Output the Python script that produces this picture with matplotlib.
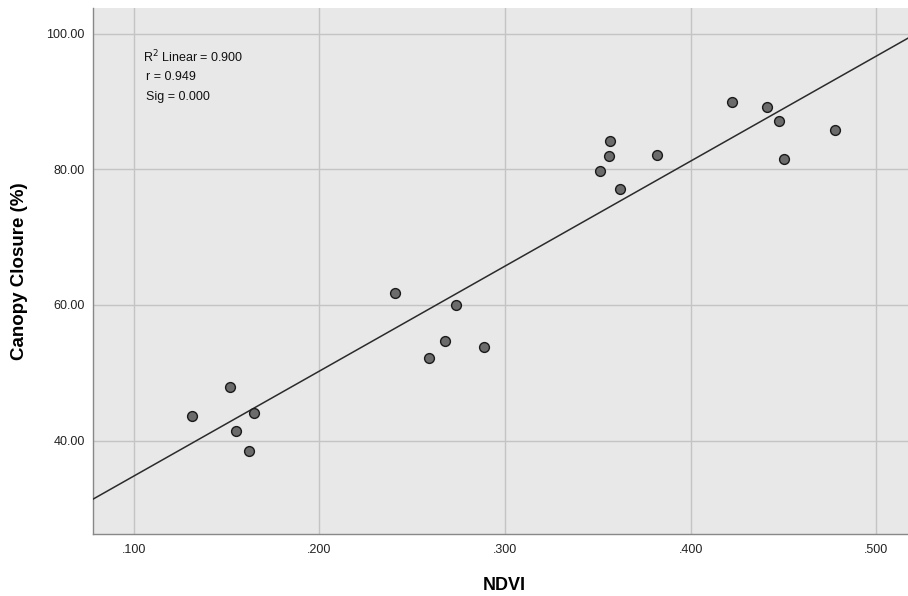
import numpy as np
import matplotlib
matplotlib.use('Agg')
import matplotlib.pyplot as plt

plt.rcParams['font.family'] = ['Liberation Sans', 'DejaVu Sans']

# NDVI vs canopy closure
ndvi = [0.1312, 0.1520, 0.1551, 0.1650, 0.1619,
        0.2406, 0.2738, 0.2677, 0.2592, 0.2887,
        0.3565, 0.3558, 0.3820, 0.3511, 0.3619,
        0.4222, 0.4413, 0.4474, 0.4779, 0.4502]
canopy = [43.6, 47.87, 41.43, 44.13, 38.44,
          61.77, 60.04, 54.69, 52.14, 53.81,
          84.22, 82.0, 82.15, 79.71, 77.1,
          89.92, 89.18, 87.07, 85.75, 81.56]

xticks = [0.1, 0.2, 0.3, 0.4, 0.5]
xticklabels = ['.100', '.200', '.300', '.400', '.500']
yticks = [40, 60, 80, 100]
yticklabels = ['40.00', '60.00', '80.00', '100.00']
stats = ['R$^2$ Linear = 0.900', 'r = 0.949', 'Sig = 0.000']

fig = plt.figure(figsize=(9.08, 5.96), dpi=100)
ax = fig.add_axes([0.1024, 0.104, 0.8976, 0.8826])
ax.set_facecolor('#E8E8E8')

xlim = (0.0781, 0.517)
ylim = (26.25, 103.77)

# fit line
slope, icpt = np.polyfit(ndvi, canopy, 1)
lx = np.array(xlim)
ax.plot(lx, slope * lx + icpt, color='#2b2b2b', linewidth=1.1, zorder=3)

ax.scatter(ndvi, canopy, s=50, facecolor='#6b6b6b', edgecolor='#1a1a1a',
           linewidth=1.0, zorder=4)

ax.set_xlim(xlim)
ax.set_ylim(ylim)
ax.set_xticks(xticks)
ax.set_xticklabels(xticklabels)
ax.set_yticks(yticks)
ax.set_yticklabels(yticklabels)
ax.tick_params(length=0, labelsize=9, colors='#222222')
ax.tick_params(axis='x', pad=7)
ax.tick_params(axis='y', pad=6)
ax.grid(True, color='#c4c4c4', linewidth=1.0)
ax.set_axisbelow(True)

for s in ['top', 'right']:
    ax.spines[s].set_visible(False)
for s in ['left', 'bottom']:
    ax.spines[s].set_color('#888888')
    ax.spines[s].set_linewidth(1.0)

ax.set_xlabel('NDVI', fontsize=13, fontweight='bold', va='center')
ax.xaxis.set_label_coords(0.505, -0.097)
ax.set_ylabel('Canopy Closure (%)', fontsize=13.5, fontweight='bold', va='center')
ax.yaxis.set_label_coords(-0.09, 0.5)

ty = 0.906
for i, t in enumerate(stats):
    ax.text(0.061 if i == 0 else 0.065, ty - i * 0.038, t, transform=ax.transAxes,
            fontsize=9, va='center', ha='left', color='#111111')

plt.savefig('out.png', dpi=100)
